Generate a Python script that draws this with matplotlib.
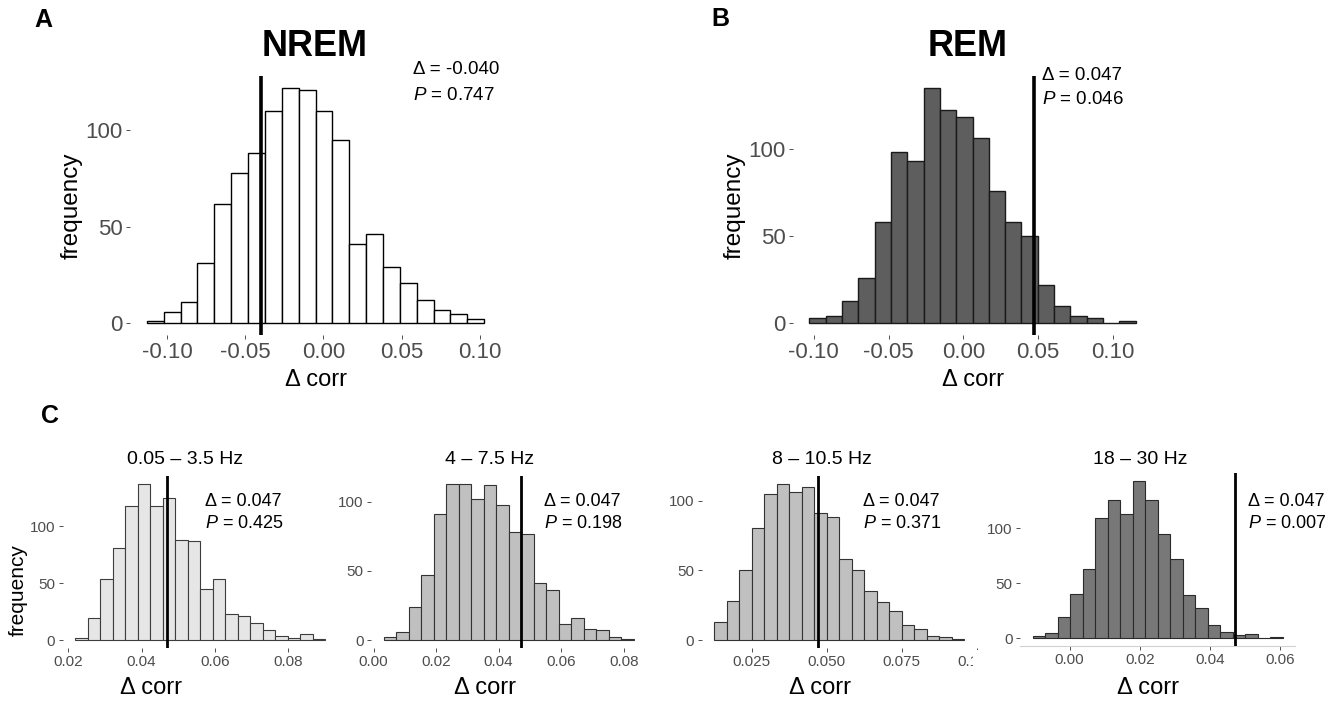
import numpy as np
import matplotlib
matplotlib.use("Agg")
import matplotlib.pyplot as plt
from matplotlib.patches import Rectangle

plt.rcParams['font.family'] = ['Liberation Sans', 'DejaVu Sans']
plt.rcParams['mathtext.fontset'] = 'custom'
plt.rcParams['mathtext.rm'] = 'Liberation Sans'
plt.rcParams['mathtext.it'] = 'Liberation Sans:italic'
plt.rcParams['axes.unicode_minus'] = False

# permutation histograms (20 bins each)
nrem_counts = [1, 6, 11, 31, 62, 78, 88, 110, 122, 121, 110, 95, 41, 46, 29, 21, 12, 7, 5, 2]
nrem_range = (-0.1128, 0.1028)
rem_counts = [3, 4, 13, 26, 58, 98, 93, 135, 122, 118, 106, 76, 58, 50, 22, 10, 4, 3, 0, 1]
rem_range = (-0.1029, 0.1151)

band_names = ["0.05 – 3.5 Hz", "4 – 7.5 Hz", "8 – 10.5 Hz", "18 – 30 Hz"]
band_counts = [
    [2, 19, 54, 81, 118, 137, 118, 125, 88, 87, 45, 54, 23, 21, 15, 9, 4, 2, 5, 1],
    [2, 6, 24, 47, 91, 113, 113, 102, 112, 98, 78, 77, 41, 36, 12, 16, 8, 7, 2, 1],
    [13, 28, 50, 80, 105, 112, 106, 110, 91, 88, 58, 50, 35, 27, 21, 11, 8, 3, 2, 1],
    [2, 5, 19, 40, 63, 109, 126, 113, 143, 126, 95, 72, 39, 27, 12, 6, 3, 4, 0, 1],
]
band_ranges = [(0.02183, 0.09017), (0.00319, 0.0831), (0.01243, 0.09587), (-0.01054, 0.06063)]

observed = {"NREM": -0.040, "REM": 0.047}
band_observed = [0.047, 0.047, 0.047, 0.047]
pvals = {"NREM": "0.747", "REM": "0.046"}
band_pvals = ["0.425", "0.198", "0.371", "0.007"]

top_xticks = [-0.10, -0.05, 0.00, 0.05, 0.10]
band_xticks = [[0.02, 0.04, 0.06, 0.08], [0.00, 0.02, 0.04, 0.06, 0.08],
               [0.025, 0.050, 0.075, 0.100], [0.00, 0.02, 0.04, 0.06]]
band_xfmt = ["%.2f", "%.2f", "%.3f", "%.2f"]
yticks = [0, 50, 100]

W, H = 1338, 702
fig = plt.figure(figsize=(W / 100, H / 100), dpi=100)


def fx(x):
    return x / W


def fy(y):
    return 1 - y / H


def add_ax(l, t, r, b):
    return fig.add_axes([fx(l), fy(b), (r - l) / W, (b - t) / H])


def hist(ax, counts, rng, face, edge, lw, vline, vlw, tick_fs, xticks, fmt):
    counts = np.array(counts)
    edges = np.linspace(rng[0], rng[1], len(counts) + 1)
    ax.bar(edges[:-1], counts, width=np.diff(edges), align='edge',
           color=face, edgecolor=edge, linewidth=lw)
    span = rng[1] - rng[0]
    ax.set_xlim(rng[0] - 0.05 * span, rng[1] + 0.05 * span)
    ax.set_ylim(-0.05 * counts.max(), 1.05 * counts.max())
    ax.axvline(vline, color='black', lw=vlw, zorder=4)
    for s in ax.spines.values():
        s.set_visible(False)
    ax.set_xticks(xticks)
    ax.set_xticklabels([fmt % v for v in xticks])
    ax.set_yticks(yticks)
    ax.tick_params(length=2.75, width=0.6, color='#333333', labelcolor='#4d4d4d',
                   labelsize=tick_fs, pad=2.5)


# ---- top row ----
axA = add_ax(130, 76, 501, 335)
hist(axA, nrem_counts, nrem_range, 'white', 'black', 1.0, observed["NREM"], 2.6,
     16, top_xticks, "%.2f")
axB = add_ax(793, 76, 1152, 335)
hist(axB, rem_counts, rem_range, '#5e5e5e', '#1a1a1a', 1.0, observed["REM"], 2.6,
     16, top_xticks, "%.2f")

fig.text(fx(315), fy(47), "NREM", fontsize=26, fontweight='bold', ha='center', va='center')
fig.text(fx(968), fy(47), "REM", fontsize=26, fontweight='bold', ha='center', va='center')
for x, yc in [(72, 206), (735, 206)]:
    fig.text(fx(x), fy(yc), "frequency", fontsize=17.5, rotation=90, ha='center', va='center')
for x in [316, 973]:
    fig.text(fx(x), fy(380), "Δ corr", fontsize=17, ha='center', va='center')

fig.text(fx(413), fy(70), "Δ = %.3f" % observed["NREM"], fontsize=13.5, va='center')
fig.text(fx(413), fy(96), "$P$ = " + pvals["NREM"], fontsize=13.5, va='center')
fig.text(fx(1042), fy(75), "Δ = %.3f" % observed["REM"], fontsize=13.5, va='center')
fig.text(fx(1042), fy(100), "$P$ = " + pvals["REM"], fontsize=13.5, va='center')

fig.text(fx(43), fy(20), "A", fontsize=18, fontweight='bold', ha='center', va='center')
fig.text(fx(720), fy(19), "B", fontsize=18, fontweight='bold', ha='center', va='center')
fig.text(fx(50), fy(416), "C", fontsize=18, fontweight='bold', ha='center', va='center')

# ---- bottom row (frequency bands) ----
band_boxes = [(62.5, 476, 338, 648), (371, 476, 646, 648),
              (701.5, 476, 977, 648), (1020, 473, 1295, 646)]
band_faces = ['#e6e6e6', '#c0c0c0', '#c0c0c0', '#787878']
band_edges = ['#3d3d3d', '#333333', '#333333', '#2b2b2b']
title_x = [185, 490, 822, 1140]
xlabel_x = [151, 485, 820, 1148]
annot_x = [205, 544, 863, 1248]

for i in range(4):
    ax = add_ax(*band_boxes[i])
    hist(ax, band_counts[i], band_ranges[i], band_faces[i], band_edges[i], 0.8,
         band_observed[i], 2.0, 11, band_xticks[i], band_xfmt[i])
    fig.text(fx(title_x[i]), fy(460), band_names[i], fontsize=14, ha='center', va='center')
    fig.text(fx(xlabel_x[i]), fy(688), "Δ corr", fontsize=17, ha='center', va='center')
    fig.text(fx(annot_x[i]), fy(501), "Δ = %.3f" % band_observed[i], fontsize=13, va='center')
    fig.text(fx(annot_x[i]), fy(523), "$P$ = " + band_pvals[i], fontsize=13, va='center')
    if i == 3:
        ax.spines['bottom'].set_visible(True)
        ax.spines['bottom'].set_color('#d0d0d0')
        ax.spines['bottom'].set_linewidth(0.8)

fig.text(fx(18), fy(590), "frequency", fontsize=15, rotation=90, ha='center', va='center')

# the last tick label of the 8-10.5 Hz panel is cut off by its neighbour
fig.add_artist(Rectangle((fx(973), fy(676)), fx(43), 26 / H, transform=fig.transFigure,
                         facecolor='white', edgecolor='none', zorder=10))

fig.savefig("out.png", dpi=100, facecolor='white')
